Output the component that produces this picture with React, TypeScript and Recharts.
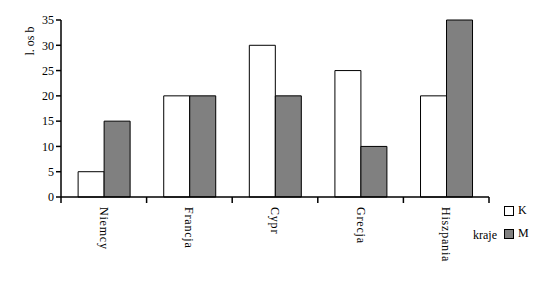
import React from 'react';
import { BarChart, Bar, XAxis, YAxis } from 'recharts';

const categories = ['Niemcy', 'Francja', 'Cypr', 'Grecja', 'Hiszpania'];
const seriesK = [5, 20, 30, 25, 20];
const seriesM = [15, 20, 20, 10, 35];
const yTicks = [0, 5, 10, 15, 20, 25, 30, 35];
const seriesNames = ['K', 'M'];
const seriesColors = ['#ffffff', '#808080'];

const data = categories.map((c, i) => ({ name: c, K: seriesK[i], M: seriesM[i] }));

const FONT = "'Liberation Serif', serif";

const CatTick = (props: any) => {
  const { x, y, payload, index, visibleTicksCount } = props;
  const off = payload && payload.offset ? payload.offset : 0;
  const last = index === (visibleTicksCount ?? categories.length) - 1;
  return (
    <g>
      <line x1={x - off} x2={x - off} y1={y} y2={y + 6} stroke="#000" strokeWidth={1.5} />
      {last && <line x1={x + off} x2={x + off} y1={y} y2={y + 6} stroke="#000" strokeWidth={1.5} />}
      <text
        x={0}
        y={0}
        transform={`translate(${x - 4},${y + 10}) rotate(90)`}
        textAnchor="start"
        fontFamily={FONT}
        fontSize={12}
        letterSpacing={0.8}
        fill="#000"
      >
        {payload.value}
      </text>
    </g>
  );
};

export default function App() {
  return (
    <div style={{ position: 'absolute', left: 0, top: 0, width: 540, height: 304, background: '#fff' }}>
      <BarChart
        width={540}
        height={304}
        data={data}
        margin={{ top: 20, right: 51, left: 0, bottom: 0 }}
        barCategoryGap="20%"
        barGap={0}
      >
        <XAxis
          dataKey="name"
          axisLine={{ stroke: '#000', strokeWidth: 1.5 }}
          tickLine={false}
          tickSize={0}
          tickMargin={0}
          height={107}
          interval={0}
          tick={<CatTick />}
          label={{
            content: () => (
              <text x={473} y={239} fontFamily={FONT} fontSize={12} fill="#000">
                kraje
              </text>
            ),
          }}
        />
        <YAxis
          domain={[0, 35]}
          ticks={yTicks}
          width={61}
          tickSize={5}
          stroke="#000"
          axisLine={{ stroke: '#000', strokeWidth: 1.5 }}
          tickLine={{ stroke: '#000', strokeWidth: 1.5 }}
          tick={{ fill: '#000', fontFamily: FONT, fontSize: 12 }}
          interval={0}
          label={{
            content: () => (
              <text
                x={0}
                y={0}
                transform="translate(34,41) rotate(-90)"
                textAnchor="middle"
                fontFamily={FONT}
                fontSize={12}
                fill="#000"
              >
                l. os b
              </text>
            ),
          }}
        />
        <Bar dataKey="K" fill={seriesColors[0]} stroke="#000" strokeWidth={1} isAnimationActive={false} />
        <Bar dataKey="M" fill={seriesColors[1]} stroke="#000" strokeWidth={1} isAnimationActive={false} />
      </BarChart>
      <div style={{ position: 'absolute', left: 504, top: 199, fontFamily: FONT, fontSize: 12 }}>
        {seriesNames.map((n, i) => (
          <div key={n} style={{ display: 'flex', alignItems: 'center', height: 23 }}>
            <svg width={12} height={12}>
              <rect x={0.5} y={1.5} width={9} height={9} fill={seriesColors[i]} stroke="#000" />
            </svg>
            <span style={{ marginLeft: 2 }}>{n}</span>
          </div>
        ))}
      </div>
    </div>
  );
}
